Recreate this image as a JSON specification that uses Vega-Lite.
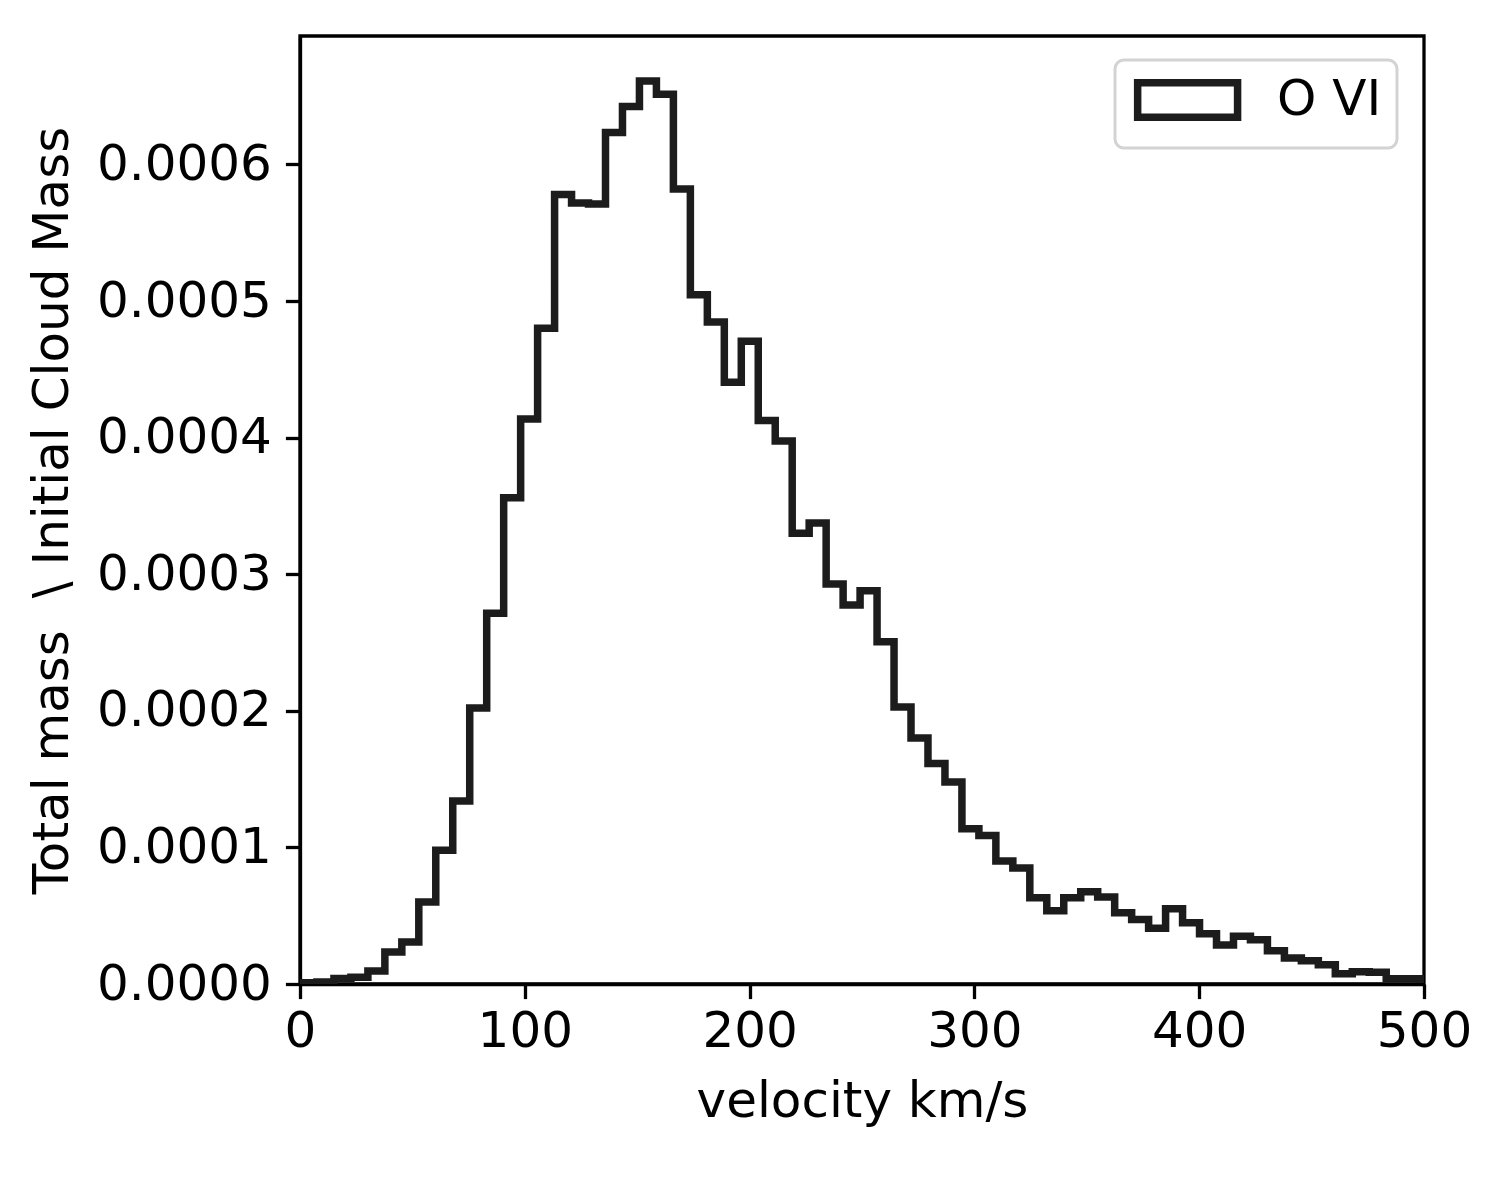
{
  "$schema": "https://vega.github.io/schema/vega-lite/v6.json",
  "width": 1124,
  "height": 948,
  "autosize": "none",
  "padding": {"left": 300, "top": 36, "right": 76, "bottom": 216},
  "background": "white",
  "data": {
    "values": [
      {"velocity": 0, "mass": 0.000001},
      {"velocity": 7.55, "mass": 0.0000015},
      {"velocity": 15.1, "mass": 0.000004},
      {"velocity": 22.65, "mass": 0.000005},
      {"velocity": 30.2, "mass": 0.0000095},
      {"velocity": 37.75, "mass": 0.0000234},
      {"velocity": 45.3, "mass": 0.0000307},
      {"velocity": 52.85, "mass": 0.00006},
      {"velocity": 60.4, "mass": 0.000098},
      {"velocity": 67.95, "mass": 0.000134},
      {"velocity": 75.5, "mass": 0.000202},
      {"velocity": 83.05, "mass": 0.0002715},
      {"velocity": 90.6, "mass": 0.000356},
      {"velocity": 98.15, "mass": 0.0004136},
      {"velocity": 105.7, "mass": 0.00048},
      {"velocity": 113.25, "mass": 0.000578},
      {"velocity": 120.8, "mass": 0.0005717},
      {"velocity": 128.35, "mass": 0.000571},
      {"velocity": 135.9, "mass": 0.0006234},
      {"velocity": 143.45, "mass": 0.0006424},
      {"velocity": 151, "mass": 0.000661},
      {"velocity": 158.55, "mass": 0.0006514},
      {"velocity": 166.1, "mass": 0.000582},
      {"velocity": 173.65, "mass": 0.0005045},
      {"velocity": 181.2, "mass": 0.0004846},
      {"velocity": 188.75, "mass": 0.0004405},
      {"velocity": 196.3, "mass": 0.0004705},
      {"velocity": 203.85, "mass": 0.0004125},
      {"velocity": 211.4, "mass": 0.0003975},
      {"velocity": 218.95, "mass": 0.00033},
      {"velocity": 226.5, "mass": 0.0003375},
      {"velocity": 234.05, "mass": 0.0002929},
      {"velocity": 241.6, "mass": 0.0002775},
      {"velocity": 249.15, "mass": 0.0002878},
      {"velocity": 256.7, "mass": 0.0002505},
      {"velocity": 264.25, "mass": 0.0002027},
      {"velocity": 271.8, "mass": 0.00018},
      {"velocity": 279.35, "mass": 0.0001615},
      {"velocity": 286.9, "mass": 0.0001478},
      {"velocity": 294.45, "mass": 0.0001136},
      {"velocity": 302, "mass": 0.0001088},
      {"velocity": 309.55, "mass": 0.00009},
      {"velocity": 317.1, "mass": 0.0000849},
      {"velocity": 324.65, "mass": 0.0000631},
      {"velocity": 332.2, "mass": 0.0000536},
      {"velocity": 339.75, "mass": 0.0000631},
      {"velocity": 347.3, "mass": 0.0000675},
      {"velocity": 354.85, "mass": 0.0000637},
      {"velocity": 362.4, "mass": 0.0000522},
      {"velocity": 369.95, "mass": 0.0000473},
      {"velocity": 377.5, "mass": 0.0000408},
      {"velocity": 385.05, "mass": 0.000055},
      {"velocity": 392.6, "mass": 0.0000449},
      {"velocity": 400.15, "mass": 0.0000368},
      {"velocity": 407.7, "mass": 0.0000285},
      {"velocity": 415.25, "mass": 0.0000349},
      {"velocity": 422.8, "mass": 0.0000324},
      {"velocity": 430.35, "mass": 0.0000244},
      {"velocity": 437.9, "mass": 0.000019},
      {"velocity": 445.45, "mass": 0.000017},
      {"velocity": 453, "mass": 0.0000141},
      {"velocity": 460.55, "mass": 0.0000075},
      {"velocity": 468.1, "mass": 0.000009},
      {"velocity": 475.65, "mass": 0.0000086},
      {"velocity": 483.2, "mass": 0.0000039},
      {"velocity": 490.75, "mass": 0.0000039},
      {"velocity": 498.3, "mass": 0.0000037},
      {"velocity": 505.85, "mass": 0.0000037}
    ]
  },
  "mark": {
    "type": "line",
    "interpolate": "step-after",
    "strokeWidth": 7.5,
    "strokeJoin": "miter",
    "strokeCap": "butt",
    "clip": true
  },
  "encoding": {
    "x": {
      "field": "velocity",
      "type": "quantitative",
      "scale": {"domain": [0, 500], "nice": false, "zero": false},
      "axis": {
        "title": "velocity km/s",
        "values": [0, 100, 200, 300, 400, 500],
        "format": "d",
        "labelFlush": false,
        "labelPadding": 8,
        "titlePadding": 20
      }
    },
    "y": {
      "field": "mass",
      "type": "quantitative",
      "scale": {"domain": [0, 0.000694], "nice": false},
      "axis": {
        "title": "Total mass \u00a0\\ Initial Cloud Mass",
        "values": [0, 0.0001, 0.0002, 0.0003, 0.0004, 0.0005, 0.0006],
        "format": ".4f",
        "labelFlush": false,
        "labelPadding": 14,
        "titlePadding": 23
      }
    },
    "stroke": {
      "datum": "O VI",
      "type": "nominal",
      "scale": {"range": ["#1c1c1c"]},
      "legend": {
        "title": null,
        "orient": "none",
        "legendX": 815,
        "legendY": 24,
        "symbolType": "M-1,-1H4.76V1H-1Z",
        "symbolSize": 1204,
        "symbolStrokeWidth": 7.5,
        "labelOffset": 97,
        "labelFontSize": 50,
        "labelFont": "DejaVu Sans",
        "labelColor": "black",
        "padding": 15,
        "strokeColor": "#d3d3d3",
        "fillColor": "white",
        "cornerRadius": 9,
        "encode": {
          "legend": {"update": {"strokeWidth": {"value": 3}}}
        }
      }
    }
  },
  "config": {
    "view": {"stroke": "black", "strokeWidth": 3.3},
    "font": "DejaVu Sans",
    "axis": {
      "grid": false,
      "domainColor": "black",
      "domainWidth": 3.3,
      "tickColor": "black",
      "tickWidth": 3.3,
      "tickSize": 14.6,
      "labelFont": "DejaVu Sans",
      "labelFontSize": 50,
      "labelColor": "black",
      "titleFont": "DejaVu Sans",
      "titleFontSize": 50,
      "titleFontWeight": "normal",
      "titleColor": "black"
    }
  }
}
